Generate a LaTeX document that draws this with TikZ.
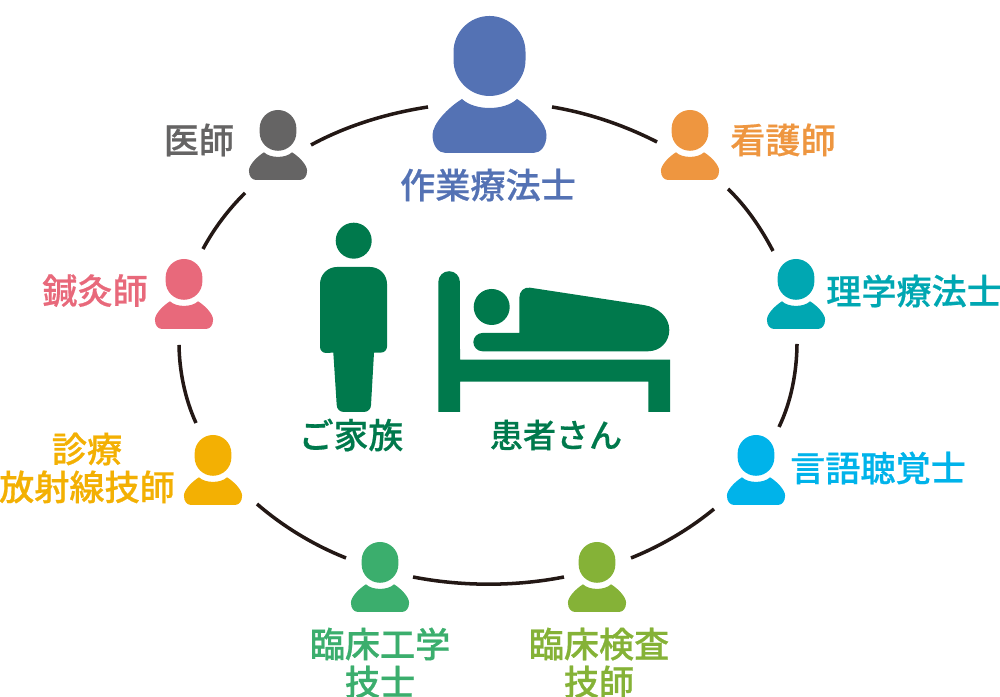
\documentclass[tikz,border=0pt]{standalone}
\usepackage{fontspec}
\newfontfamily\cjk[FakeBold=.5]{Noto Sans CJK JP Medium}
\definecolor{otblue}{HTML}{5472B4}
\definecolor{drgray}{HTML}{656464}
\definecolor{nsorange}{HTML}{EE9640}
\definecolor{ptteal}{HTML}{00A7B2}
\definecolor{stsky}{HTML}{00B3EA}
\definecolor{ltlime}{HTML}{85B237}
\definecolor{cegreen}{HTML}{3BAE6D}
\definecolor{rtyellow}{HTML}{F3B003}
\definecolor{acpink}{HTML}{E8697B}
\definecolor{ptgreen}{HTML}{00794C}
\definecolor{ringblack}{HTML}{231815}
\tikzset{
  jobname/.style={font=\cjk\fontsize{10}{10.8}\selectfont,align=center,inner sep=0pt},
  carename/.style={font=\cjk\fontsize{9.4}{10.8}\selectfont,inner sep=0pt,color=ptgreen},
  ringline/.style={color=ringblack,line width=1pt,looseness=.85}
}
\newcommand{\person}[4]{%
  \begin{scope}[shift={(#1,#2)},scale=#3,color=#4]
    \fill (-.36,-.36) arc[start angle=180,end angle=0,radius=.36] -- (.36,-.44)
      arc[start angle=0,end angle=-180,radius=.36] -- cycle;
    \fill (-.275,-.83) .. controls (-.15,-.95) and (.15,-.95) .. (.275,-.83)
      .. controls (.42,-.92) and (.57,-1.08) .. (.57,-1.19)
      .. controls (.57,-1.30) and (.51,-1.37) .. (.44,-1.37) -- (-.44,-1.37)
      .. controls (-.51,-1.37) and (-.57,-1.30) .. (-.57,-1.19)
      .. controls (-.57,-1.08) and (-.42,-.92) .. (-.275,-.83) -- cycle;
  \end{scope}}

\begin{document}
\begin{tikzpicture}
    \useasboundingbox (0,0) rectangle (10,6.97);

    % ring
    \coordinate (ra) at (3.11,5.52);
    \coordinate (rb) at (4.28,5.90);
    \coordinate (rc) at (5.52,5.90);
    \coordinate (rd) at (6.57,5.55);
    \coordinate (re) at (7.28,5.08);
    \coordinate (rf) at (7.73,4.46);
    \coordinate (rg) at (7.97,3.53);
    \coordinate (rh) at (7.79,2.70);
    \coordinate (ri) at (7.14,1.88);
    \coordinate (rj) at (6.31,1.39);
    \coordinate (rk) at (5.64,1.20);
    \coordinate (rl) at (4.13,1.20);
    \coordinate (rm) at (3.46,1.39);
    \coordinate (rn) at (2.57,1.93);
    \coordinate (ro) at (1.96,2.74);
    \coordinate (rp) at (1.79,3.52);
    \coordinate (rq) at (2.03,4.48);
    \coordinate (rr) at (2.45,5.04);
    \draw[ringline] (ra) to[out=28.6,in=188.8] (rb);
    \draw[ringline] (rc) to[out=-9.4,in=152.9] (rd);
    \draw[ringline] (re) to[out=-43.6,in=117.8] (rf);
    \draw[ringline] (rg) to[out=-90.6,in=64.3] (rh);
    \draw[ringline] (ri) to[out=-140.6,in=21.9] (rj);
    \draw[ringline] (rk) to[out=-168.9,in=-11] (rl);
    \draw[ringline] (rm) to[out=158.3,in=-40.9] (rn);
    \draw[ringline] (ro) to[out=114.6,in=-89.1] (rp);
    \draw[ringline] (rq) to[out=61.8,in=-135.3] (rr);

    % staff
    \person{4.895}{6.81}{1}{otblue}
    \person{2.78}{5.87}{.51}{drgray}
    \person{6.90}{5.87}{.51}{nsorange}
    \person{7.96}{4.38}{.51}{ptteal}
    \person{7.56}{2.62}{.51}{stsky}
    \person{5.97}{1.55}{.51}{ltlime}
    \person{3.80}{1.55}{.51}{cegreen}
    \person{2.13}{2.62}{.51}{rtyellow}
    \person{1.84}{4.38}{.51}{acpink}

    \node[jobname,color=otblue] (ot) at (4.88,5.12) {作業療法士};
    \node[jobname,color=drgray] (dr) at (1.99,5.57) {医師};
    \node[jobname,color=nsorange] (ns) at (7.83,5.57) {看護師};
    \node[jobname,color=ptteal] (pt) at (9.14,4.06) {理学療法士};
    \node[jobname,color=stsky] (st) at (8.78,2.29) {言語聴覚士};
    \node[jobname,color=ltlime] (lt) at (5.99,.34) {臨床検査\\技師};
    \node[jobname,color=cegreen] (ce) at (3.80,.34) {臨床工学\\技士};
    \node[jobname,color=rtyellow] (rt) at (.87,2.29) {診療\\放射線技師};
    \node[jobname,color=acpink] (ac) at (.95,4.06) {鍼灸師};

    % family and patient
    \begin{scope}[color=ptgreen]
      \fill (3.537,4.563) circle (.18);
      \fill (3.20,4.13) -- (3.20,3.50) arc[start angle=180,end angle=270,radius=.06]
        -- (3.333,3.444) -- (3.367,2.92) arc[start angle=180,end angle=270,radius=.07]
        -- (3.64,2.85) arc[start angle=-90,end angle=0,radius=.07] -- (3.74,3.444)
        -- (3.81,3.444) arc[start angle=-90,end angle=0,radius=.06] -- (3.87,4.13)
        arc[start angle=0,end angle=90,radius=.17] -- (3.37,4.30)
        arc[start angle=90,end angle=180,radius=.17] -- cycle;
      \fill (4.383,2.85) -- (4.383,4.15) arc[start angle=180,end angle=0,radius=.108]
        -- (4.60,3.373) -- (6.70,3.373) -- (6.70,2.85) -- (6.483,2.85) -- (6.483,3.153)
        -- (4.60,3.153) -- (4.60,2.85) -- cycle;
      \fill (4.917,3.90) circle (.18);
      \fill (5.193,3.64) -- (5.193,3.99) .. controls (5.193,4.06) and (5.24,4.10) .. (5.30,4.093)
        -- (6.433,3.92) .. controls (6.58,3.90) and (6.693,3.80) .. (6.693,3.67)
        .. controls (6.693,3.55) and (6.60,3.457) .. (6.48,3.457) -- (4.825,3.457)
        arc[start angle=270,end angle=90,radius=.0915] -- cycle;
    \end{scope}

    \node[carename,font=\cjk\fontsize{9.9}{10.8}\selectfont] (fm) at (3.51,2.62) {ご家族};
    \node[carename] (pa) at (5.56,2.62) {患者さん};
\end{tikzpicture}
\end{document}
